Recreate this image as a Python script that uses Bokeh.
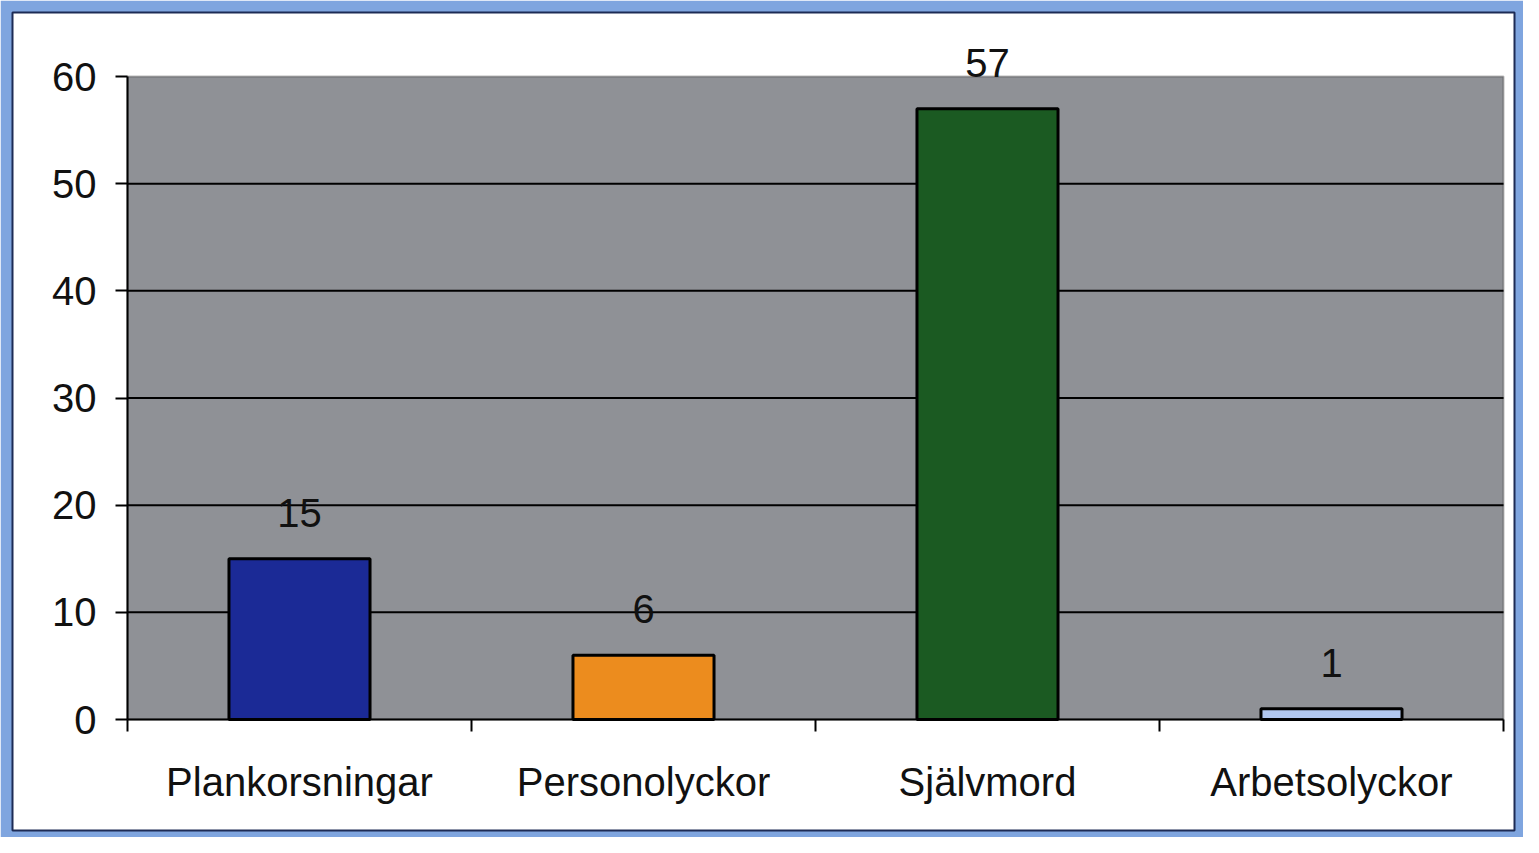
from bokeh.plotting import figure
from bokeh.models import ColumnDataSource, LabelSet, BoxAnnotation, FixedTicker
from bokeh.core.properties import value
from bokeh.embed import file_html
from bokeh.resources import INLINE

# ---- data ----
categories = ["Plankorsningar", "Personolyckor", "Självmord", "Arbetsolyckor"]
values = [15, 6, 57, 1]
colors = ["#1b2a96", "#ec8c1e", "#1b5a22", "#b0c6ee"]
y_ticks = [0, 10, 20, 30, 40, 50, 60]

# ---- layout (canvas pixels) ----
W, H = 1523, 837
FRAME_L, FRAME_R, FRAME_T, FRAME_B = 12, 1514, 12, 830   # white panel
AREA_L, AREA_R, AREA_T, AREA_B = 127, 1503, 76, 719      # gray plot area
FONT = "Liberation Sans"
FS = "40px"

n = len(categories)
ymax = y_ticks[-1]
px_x = (AREA_R - AREA_L) / n
px_y = (AREA_B - AREA_T) / ymax
x_range = ((FRAME_L - AREA_L) / px_x, (FRAME_R - AREA_L) / px_x)
y_range = ((AREA_B - FRAME_B) / px_y, (AREA_B - FRAME_T) / px_y)

xpos = [i + 0.5 for i in range(n)]
bounds = [i for i in range(n + 1)]
src = ColumnDataSource(dict(x=xpos, top=values, color=colors,
                            label=[str(v) for v in values]))
grid_src = ColumnDataSource(dict(y=y_ticks[1:-1]))

p = figure(frame_width=FRAME_R - FRAME_L, frame_height=FRAME_B - FRAME_T,
           min_border_left=FRAME_L, min_border_right=W - FRAME_R,
           min_border_top=FRAME_T, min_border_bottom=H - FRAME_B,
           x_range=x_range, y_range=y_range,
           output_backend="svg", toolbar_location=None)

p.border_fill_color = "#7fa5df"
p.background_fill_color = "white"
p.outline_line_color = "#1d2b55"
p.outline_line_width = 2

# gray plot area
p.add_layout(BoxAnnotation(left=0, right=n, bottom=0, top=ymax,
                           fill_color="#8f9196", fill_alpha=1,
                           line_color="#1a1a1a", line_width=2, level="image"))

# horizontal gridlines inside the plot area
p.segment(x0=0, x1=n, y0="y", y1="y", source=grid_src,
          line_color="black", line_width=2, level="underlay")

p.vbar(x="x", top="top", width=0.41, fill_color="color",
       line_color="black", line_width=3, source=src)

p.add_layout(LabelSet(x="x", y="top", text="label", source=src,
                      text_align="center", text_baseline="alphabetic",
                      y_offset=32, text_font=value(FONT), text_font_size=FS,
                      text_color="#111111"))

p.xgrid.visible = False
p.ygrid.visible = False

p.yaxis.fixed_location = 0
p.yaxis.bounds = (0, ymax)
p.yaxis.ticker = FixedTicker(ticks=y_ticks)
p.yaxis.axis_line_color = "black"
p.yaxis.axis_line_width = 2
p.yaxis.major_tick_line_color = "black"
p.yaxis.major_tick_line_width = 2
p.yaxis.major_tick_out = 12
p.yaxis.major_tick_in = 0
p.yaxis.minor_tick_line_color = None
p.yaxis.major_label_standoff = 19
p.yaxis.major_label_text_font = FONT
p.yaxis.major_label_text_font_size = FS
p.yaxis.major_label_text_color = "#111111"

p.xaxis.fixed_location = 0
p.xaxis.bounds = (0, n)
p.xaxis.ticker = FixedTicker(ticks=xpos, minor_ticks=bounds)
p.xaxis.major_label_overrides = {x: c for x, c in zip(xpos, categories)}
p.xaxis.axis_line_color = "black"
p.xaxis.axis_line_width = 2
p.xaxis.major_tick_line_color = None
p.xaxis.major_tick_out = 0
p.xaxis.major_tick_in = 0
p.xaxis.minor_tick_line_color = "black"
p.xaxis.minor_tick_line_width = 2
p.xaxis.minor_tick_out = 12
p.xaxis.minor_tick_in = 0
p.xaxis.major_label_standoff = 28
p.xaxis.major_label_text_font = FONT
p.xaxis.major_label_text_font_size = FS
p.xaxis.major_label_text_color = "#111111"

open("out.html", "w").write(file_html(p, INLINE))
